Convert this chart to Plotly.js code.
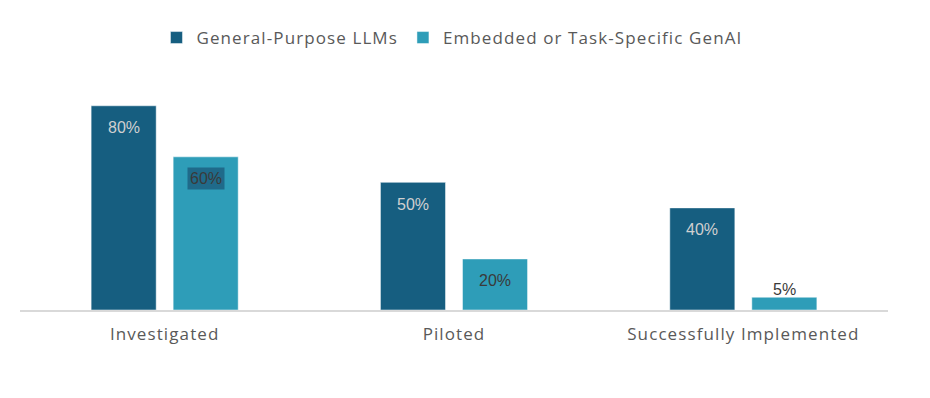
<!DOCTYPE html>
<html>
<head>
<meta charset="utf-8">
<script src="https://cdn.plot.ly/plotly-3.0.1.min.js"></script>
<style>
html,body{margin:0;padding:0;background:#fff;}
#chart{width:930px;height:398px;}
.legendtext{letter-spacing:1.1px;}
.xtick text{letter-spacing:1.1px;}
</style>
</head>
<body>
<div id="chart"></div>
<script>
const categories = ["Investigated", "Piloted", "Successfully Implemented"];
const seriesNames = ["General-Purpose LLMs", "Embedded or Task-Specific GenAI"];
const generalPurpose = [80, 50, 40];
const embedded = [60, 20, 5];
const valueLabels = [["80%", "50%", "40%"], ["60%", "20%", "5%"]];

const colors = ["#165e80", "#2e9db8"];
const font = "'Open Sans', Lato, sans-serif";

const traces = [generalPurpose, embedded].map((vals, i) => ({
  type: "bar",
  name: seriesNames[i],
  x: categories,
  y: vals,
  marker: {color: colors[i], line: {color: "rgba(255,255,255,0.6)", width: 0.8}},
  textposition: "none",
  hoverinfo: "skip"
}));

const annotations = [];
[generalPurpose, embedded].forEach((vals, s) => {
  vals.forEach((v, j) => {
    const small = v < 10;
    const a = {
      x: categories[j], y: v, xref: "x", yref: "y",
      text: valueLabels[s][j],
      showarrow: false,
      xshift: s === 0 ? -41 : 41,
      yshift: small ? 8 : -22,
      font: {family: "'Liberation Sans', Arial, sans-serif", size: 16,
             color: s === 0 ? "#d0d0d0" : "#3a3a3a"}
    };
    if (s === 1 && j === 0) { a.bgcolor = "#1f6a8a"; a.borderpad = 2; }
    annotations.push(a);
  });
});

const layout = {
  width: 930, height: 398,
  margin: {l: 20, r: 42, t: 49, b: 88},
  paper_bgcolor: "#fff", plot_bgcolor: "#fff",
  barmode: "group",
  bargap: 0.433,
  bargroupgap: 0.207,
  showlegend: true,
  legend: {orientation: "h", x: 0.486, xanchor: "center", xref: "container",
           y: 0.9045, yanchor: "middle", yref: "container",
           font: {family: font, size: 17, color: "#595959"}, itemwidth: 30, tracegroupgap: 0},
  xaxis: {type: "category", showline: true, linecolor: "#d9d9d9", linewidth: 1.5,
          ticks: "", showgrid: false, zeroline: false, ticklabelstandoff: 8,
          tickfont: {family: font, size: 17, color: "#595959"}},
  yaxis: {range: [0, 99.5], visible: false, showgrid: false, zeroline: false},
  annotations: annotations
};

Plotly.newPlot("chart", traces, layout, {displayModeBar: false, staticPlot: true});
</script>
</body>
</html>
